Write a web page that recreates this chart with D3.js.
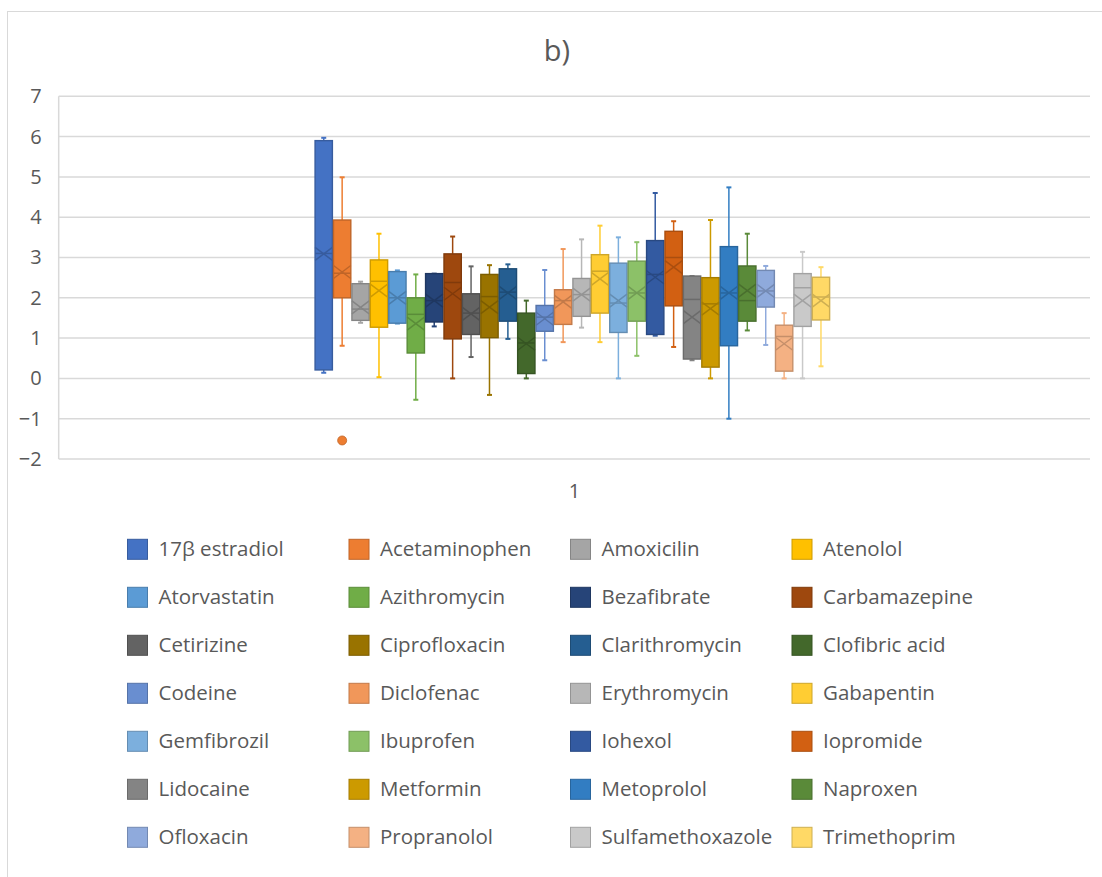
<!DOCTYPE html>
<html>
<head>
<meta charset="utf-8">
<script src="https://cdn.jsdelivr.net/npm/d3@7"></script>
<style>
  body { margin: 0; background: #fff; }
  text { font-family: "Open Sans", "Noto Sans", sans-serif; fill: #595959; }
</style>
</head>
<body>
<div id="chart"></div>
<script>
// one category, 28 series (box & whisker)
var categories = ["1"];
var names = ["17β estradiol", "Acetaminophen", "Amoxicilin", "Atenolol", "Atorvastatin", "Azithromycin",
  "Bezafibrate", "Carbamazepine", "Cetirizine", "Ciprofloxacin", "Clarithromycin", "Clofibric acid",
  "Codeine", "Diclofenac", "Erythromycin", "Gabapentin", "Gemfibrozil", "Ibuprofen",
  "Iohexol", "Iopromide", "Lidocaine", "Metformin", "Metoprolol", "Naproxen",
  "Ofloxacin", "Propranolol", "Sulfamethoxazole", "Trimethoprim"];
var colors = ["#4472C4", "#ED7D31", "#A5A5A5", "#FFC000", "#5B9BD5", "#70AD47",
  "#264478", "#9E480E", "#636363", "#997300", "#255E91", "#43682B",
  "#698ED0", "#F1975A", "#B7B7B7", "#FFCD33", "#7CAFDD", "#8CC168",
  "#335AA1", "#D26012", "#848484", "#CC9A00", "#327DC2", "#5A8A39",
  "#8FAADC", "#F4B183", "#C9C9C9", "#FFD966"];
var whiskerLow = [0.14, 0.81, 1.38, 0.03, 1.36, -0.53, 1.29, 0.0, 0.53, -0.41, 0.98, 0.0,
  0.45, 0.90, 1.26, 0.90, 0.0, 0.56, 1.06, 0.78, 0.45, 0.0, -1.0, 1.19, 0.83, 0.0, 0.0, 0.30];
var q1 = [0.21, 2.0, 1.44, 1.27, 1.37, 0.63, 1.40, 0.98, 1.09, 1.01, 1.42, 0.12,
  1.17, 1.34, 1.54, 1.62, 1.14, 1.42, 1.09, 1.80, 0.48, 0.28, 0.81, 1.42, 1.77, 0.18, 1.29, 1.45];
var medians = [3.1, 2.61, 1.72, 2.41, 2.0, 1.59, 1.93, 2.38, 1.62, 2.03, 2.14, 0.88,
  1.52, 1.93, 2.08, 2.66, 1.87, 2.12, 2.58, 3.0, 1.96, 1.85, 2.12, 1.93, 2.17, 1.04, 2.25, 2.02];
var q3 = [5.90, 3.93, 2.35, 2.94, 2.65, 2.0, 2.60, 3.09, 2.10, 2.58, 2.72, 1.62,
  1.81, 2.20, 2.48, 3.07, 2.86, 2.91, 3.42, 3.65, 2.54, 2.50, 3.27, 2.79, 2.68, 1.32, 2.60, 2.51];
var whiskerHigh = [5.97, 4.99, 2.40, 3.59, 2.68, 2.58, 2.60, 3.52, 2.78, 2.81, 2.83, 1.93,
  2.69, 3.21, 3.45, 3.79, 3.50, 3.38, 4.60, 3.90, 2.54, 3.93, 4.74, 3.59, 2.79, 1.62, 3.14, 2.76];
var means = [3.09, 2.64, 1.76, 2.18, 2.0, 1.36, 1.93, 2.1, 1.6, 1.77, 2.12, 0.86,
  1.48, 1.9, 2.08, 2.47, 1.93, 2.12, 2.51, 2.76, 1.52, 1.73, 2.12, 2.18, 2.17, 0.86, 1.93, 1.93];
var outliers = [[], [-1.54], [], [], [], [], [], [], [], [], [], [],
  [], [], [], [], [], [], [], [], [], [], [], [], [], [], [], []];
var yTicks = [-2, -1, 0, 1, 2, 3, 4, 5, 6, 7];

var W = 1102, H = 877;
var plot = {left: 58.7, right: 1090, top: 96.3, bottom: 459};

var svg = d3.select("#chart").append("svg")
  .attr("width", W)
  .attr("height", H);

// chart border
svg.append("rect")
  .attr("x", 7.5).attr("y", 11.5)
  .attr("width", W + 10).attr("height", H + 10)
  .attr("fill", "none")
  .attr("stroke", "#D9D9D9")
  .attr("stroke-width", 1);

var y = d3.scaleLinear().domain([-2, 7]).range([plot.bottom, plot.top]);
var x = d3.scaleBand().domain(categories).range([plot.left, plot.right])
  .paddingInner(0).paddingOuter(0.5);
var xs = d3.scaleBand().domain(names).range([-2, x.bandwidth() - 2])
  .paddingInner(0.06).paddingOuter(0.03);

// gridlines
svg.append("g").selectAll("line")
  .data(yTicks)
  .enter().append("line")
  .attr("x1", plot.left).attr("x2", plot.right)
  .attr("y1", function(d) { return y(d); })
  .attr("y2", function(d) { return y(d); })
  .attr("stroke", "#D9D9D9")
  .attr("stroke-width", 1.5);

svg.append("line")
  .attr("x1", plot.left).attr("x2", plot.left)
  .attr("y1", plot.top).attr("y2", plot.bottom)
  .attr("stroke", "#D9D9D9")
  .attr("stroke-width", 1.5);

// y axis labels
var yAxis = svg.append("g")
  .attr("transform", "translate(" + (plot.left - 17) + ",0)")
  .call(d3.axisLeft(y).tickValues(yTicks).tickSize(0).tickPadding(0).tickFormat(d3.format("d")));
yAxis.select(".domain").remove();
yAxis.selectAll("text")
  .style("font-size", "20px")
  .style("fill", "#595959")
  .style("font-family", "'Open Sans', sans-serif");

// x axis label
var xAxis = svg.append("g")
  .attr("transform", "translate(0," + plot.bottom + ")")
  .call(d3.axisBottom(x).tickSize(0).tickPadding(25));
xAxis.select(".domain").remove();
xAxis.selectAll("text")
  .style("font-size", "20px")
  .style("fill", "#595959")
  .style("font-family", "'Open Sans', sans-serif");

// title
svg.append("text")
  .attr("x", 557)
  .attr("y", 61)
  .attr("text-anchor", "middle")
  .style("font-size", "29px")
  .text("b)");

// boxes
var boxes = svg.append("g").selectAll("g")
  .data(names)
  .enter().append("g")
  .attr("transform", function(d) { return "translate(" + (x("1") + xs(d)) + ",0)"; });

var bw = xs.bandwidth();
var capW = 5;

boxes.each(function(d, i) {
  var g = d3.select(this);
  var c = colors[i];
  var dark = d3.color(c).darker(0.6).formatHex();
  var cx = bw / 2;

  // whiskers
  g.append("line")
    .attr("x1", cx).attr("x2", cx)
    .attr("y1", y(whiskerHigh[i])).attr("y2", y(q3[i]))
    .attr("stroke", c).attr("stroke-width", 1.5);
  g.append("line")
    .attr("x1", cx).attr("x2", cx)
    .attr("y1", y(q1[i])).attr("y2", y(whiskerLow[i]))
    .attr("stroke", c).attr("stroke-width", 1.5);
  [whiskerHigh[i], whiskerLow[i]].forEach(function(v) {
    g.append("line")
      .attr("x1", cx - capW / 2).attr("x2", cx + capW / 2)
      .attr("y1", y(v)).attr("y2", y(v))
      .attr("stroke", c).attr("stroke-width", 2);
  });

  // box
  g.append("rect")
    .attr("x", 0)
    .attr("y", y(q3[i]))
    .attr("width", bw)
    .attr("height", y(q1[i]) - y(q3[i]))
    .attr("fill", c)
    .attr("stroke", dark)
    .attr("stroke-width", 1.4);

  // median
  g.append("line")
    .attr("x1", 0).attr("x2", bw)
    .attr("y1", y(medians[i])).attr("y2", y(medians[i]))
    .attr("stroke", dark).attr("stroke-width", 1.5);

  // mean marker (x)
  var my = y(means[i]), hx = bw / 2, hy = 6.5;
  g.append("path")
    .attr("d", "M" + (cx - hx) + "," + (my - hy) + "L" + (cx + hx) + "," + (my + hy) +
      "M" + (cx - hx) + "," + (my + hy) + "L" + (cx + hx) + "," + (my - hy))
    .attr("stroke", dark).attr("stroke-width", 1.5).attr("fill", "none");

  // outliers
  g.selectAll("circle")
    .data(outliers[i])
    .enter().append("circle")
    .attr("cx", cx)
    .attr("cy", function(v) { return y(v); })
    .attr("r", 4.5)
    .attr("fill", c)
    .attr("stroke", dark)
    .attr("stroke-width", 0.8);
});

// legend
var colX = [127.5, 349, 570.5, 792];
var rowY = 549.3, rowStep = 48;
var legend = svg.append("g").selectAll("g")
  .data(names)
  .enter().append("g")
  .attr("transform", function(d, i) {
    return "translate(" + colX[i % 4] + "," + (rowY + Math.floor(i / 4) * rowStep) + ")";
  });

legend.append("rect")
  .attr("x", 0).attr("y", -10)
  .attr("width", 20).attr("height", 20)
  .attr("fill", function(d, i) { return colors[i]; })
  .attr("stroke", function(d, i) { return d3.color(colors[i]).darker(0.6).formatHex(); })
  .attr("stroke-width", 1);

legend.append("text")
  .attr("x", 31)
  .attr("y", 0)
  .attr("dy", "0.35em")
  .style("font-size", "20.5px")
  .text(function(d) { return d; });
</script>
</body>
</html>
